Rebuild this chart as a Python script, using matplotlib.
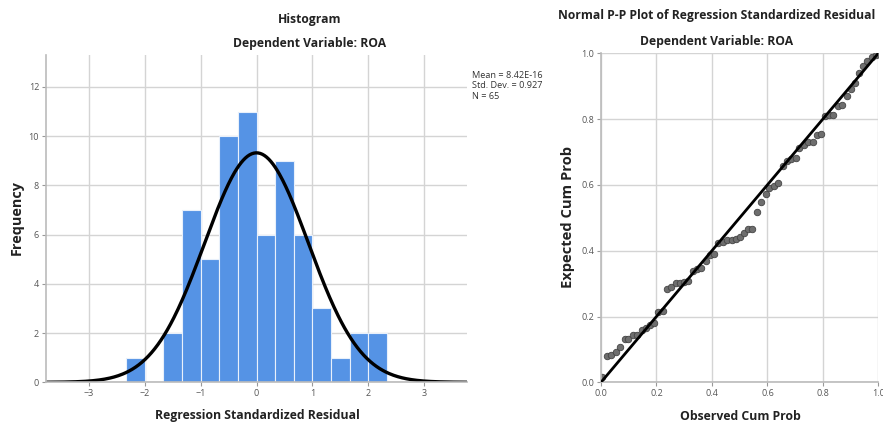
import matplotlib
matplotlib.use('Agg')
import matplotlib.pyplot as plt
import numpy as np
import math

plt.rcParams['font.family'] = ['Open Sans', 'DejaVu Sans']

# residual histogram (bins of width 1/3 starting at -2.333)
bin_start = -7 / 3
bin_width = 1 / 3
counts = [1, 0, 2, 7, 5, 10, 11, 6, 9, 6, 3, 1, 2, 2]
res_mean = 8.42e-16
res_sd = 0.927
n_obs = 65

# normal P-P plot points
obs_cum = [0.004, 0.020, 0.036, 0.053, 0.069, 0.087, 0.099, 0.117, 0.131, 0.147,
           0.162, 0.177, 0.192, 0.207, 0.222, 0.239, 0.252, 0.269, 0.285, 0.299,
           0.315, 0.331, 0.345, 0.359, 0.377, 0.393, 0.407, 0.423, 0.439, 0.455,
           0.471, 0.487, 0.501, 0.516, 0.529, 0.546, 0.561, 0.576, 0.594, 0.607,
           0.624, 0.639, 0.655, 0.669, 0.684, 0.702, 0.715, 0.732, 0.748, 0.763,
           0.778, 0.793, 0.808, 0.823, 0.838, 0.853, 0.870, 0.886, 0.900, 0.916,
           0.931, 0.946, 0.960, 0.976, 0.992]
exp_cum = [0.017, 0.080, 0.083, 0.093, 0.108, 0.131, 0.131, 0.144, 0.144, 0.159,
           0.164, 0.174, 0.181, 0.213, 0.218, 0.283, 0.289, 0.303, 0.303, 0.306,
           0.308, 0.338, 0.343, 0.346, 0.370, 0.387, 0.390, 0.423, 0.426, 0.433,
           0.433, 0.436, 0.441, 0.453, 0.467, 0.467, 0.518, 0.549, 0.571, 0.592,
           0.597, 0.605, 0.656, 0.673, 0.678, 0.681, 0.711, 0.721, 0.731, 0.731,
           0.752, 0.755, 0.810, 0.813, 0.813, 0.840, 0.843, 0.870, 0.891, 0.911,
           0.939, 0.961, 0.976, 0.990, 0.995]

bar_color = '#5593e5'
grid_color = '#d4d4d4'
tick_color = '#555555'
text_color = '#222222'

fig = plt.figure(figsize=(8.83, 4.25), dpi=100)


def style_axes(ax):
    for side in ['top', 'right']:
        ax.spines[side].set_visible(False)
    for side in ['left', 'bottom']:
        ax.spines[side].set_color('#bbbbbb')
        ax.spines[side].set_linewidth(1.2)
    ax.tick_params(colors='#999999', labelcolor=tick_color, labelsize=6.5,
                   length=3, width=0.8, pad=2)
    ax.grid(True, color=grid_color, linewidth=1)
    ax.set_axisbelow(True)


def px_text(x, y, s, **kw):
    # place text by pixel position (origin top-left)
    fig.text(x / 883, 1 - y / 425, s, ha='center', va='center', **kw)


# ---- histogram ----
ax1 = fig.add_axes([46 / 883, 1 - 382.3 / 425, (467 - 46) / 883, (382.3 - 55) / 425])
edges = [bin_start + i * bin_width for i in range(len(counts))]
ax1.bar(edges, counts, width=bin_width, align='edge', color=bar_color,
        edgecolor='#e8f0fb', linewidth=0.8)
xs = np.linspace(-3.8, 3.8, 400)
pdf = n_obs * bin_width * np.exp(-0.5 * ((xs - res_mean) / res_sd) ** 2) / (res_sd * math.sqrt(2 * math.pi))
ax1.plot(xs, pdf, color='black', linewidth=2.4)
ax1.set_xlim(-3.76, 3.76)
ax1.set_ylim(0, 13.3)
ax1.set_xticks([-3, -2, -1, 0, 1, 2, 3])
ax1.set_yticks([0, 2, 4, 6, 8, 10, 12])
style_axes(ax1)

px_text(310, 19, 'Histogram', fontsize=8.7, fontweight='bold', color=text_color)
px_text(310, 43, 'Dependent Variable: ROA', fontsize=8.7, fontweight='bold', color=text_color)
px_text(257, 416, 'Regression Standardized Residual', fontsize=8.8,
        fontweight='bold', color=text_color)
px_text(17, 218, 'Frequency', fontsize=10.4, fontweight='bold', color=text_color,
        rotation=90)
fig.text(472 / 883, 1 - 86 / 425,
         'Mean = %.2E\nStd. Dev. = %.3f\nN = %d' % (res_mean, res_sd, n_obs),
         ha='left', va='center', fontsize=6.6, color='#333333', linespacing=1.15,
         family=['Liberation Sans Narrow', 'Open Sans', 'DejaVu Sans'])

# ---- P-P plot ----
ax2 = fig.add_axes([601 / 883, 1 - 382.3 / 425, (878.3 - 601) / 883, (382.3 - 53.3) / 425])
ax2.plot([0, 1], [0, 1], color='black', linewidth=2, zorder=3)
ax2.scatter(obs_cum, exp_cum, s=22, color='#6e6e6e', edgecolors='#444444',
            linewidths=0.6, zorder=2)
ax2.set_xlim(0, 1)
ax2.set_ylim(0, 1)
ax2.set_xticks([0, 0.2, 0.4, 0.6, 0.8, 1.0])
ax2.set_yticks([0, 0.2, 0.4, 0.6, 0.8, 1.0])
ax2.set_xticklabels(['0.0', '0.2', '0.4', '0.6', '0.8', '1.0'])
ax2.set_yticklabels(['0.0', '0.2', '0.4', '0.6', '0.8', '1.0'])
style_axes(ax2)

px_text(717, 16, 'Normal P-P Plot of Regression Standardized Residual',
        fontsize=8.7, fontweight='bold', color=text_color)
px_text(717, 42, 'Dependent Variable: ROA', fontsize=8.7, fontweight='bold', color=text_color)
px_text(740, 416, 'Observed Cum Prob', fontsize=8.8, fontweight='bold', color=text_color)
px_text(568, 217, 'Expected Cum Prob', fontsize=10.6, fontweight='bold', color=text_color,
        rotation=90)

fig.savefig('out.png', dpi=100)
